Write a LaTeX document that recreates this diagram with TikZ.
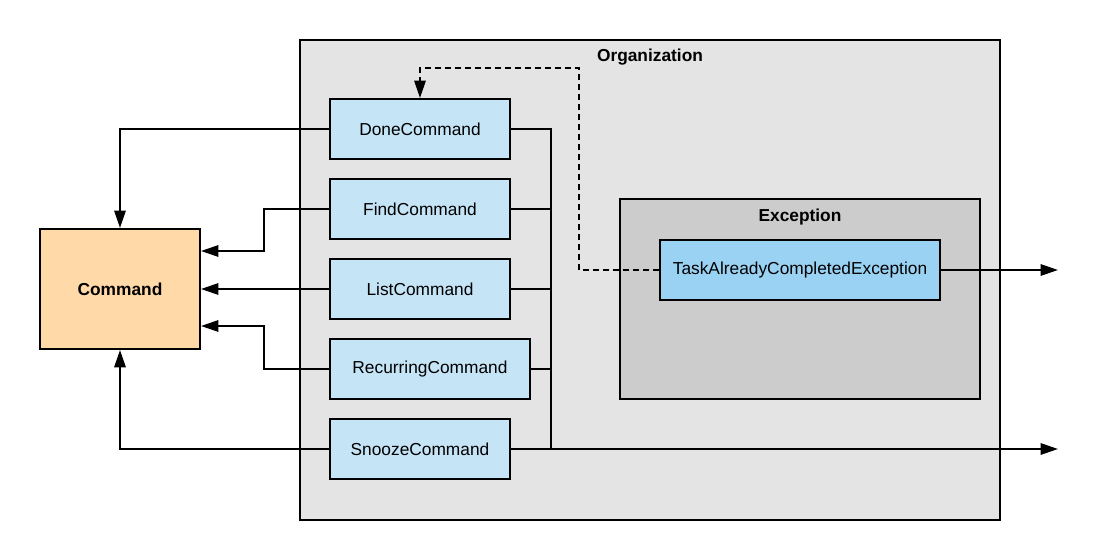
\documentclass[tikz,border=0pt]{standalone}
\usepackage{fontspec}
\setmainfont{Liberation Sans}
\usepackage{tikz}
\usetikzlibrary{arrows.meta}
\usepackage{xcolor}

\definecolor{orgGray}{RGB}{228,228,228}
\definecolor{excGray}{RGB}{204,204,204}
\definecolor{cmdBlue}{RGB}{197,228,246}
\definecolor{excBlue}{RGB}{154,210,243}
\definecolor{baseOrange}{RGB}{255,218,168}

\tikzset{
  box/.style={draw=black, line width=1.5pt, inner sep=0pt, minimum height=45pt, font=\fontsize{13}{15}\selectfont},
  cmdbox/.style={box, fill=cmdBlue, minimum width=135pt},
  link/.style={line width=1.5pt, -{Triangle[length=13pt,width=8.5pt]}},
  wire/.style={line width=1.5pt},
  title/.style={font=\fontsize{13}{15}\selectfont\bfseries}
}

\begin{document}
\begin{tikzpicture}[x=0.75pt,y=0.75pt,yscale=-1,xscale=1]
\useasboundingbox (0,0) rectangle (1097,560);

%Shape: Rectangle [Organization]
\draw [fill=orgGray, line width=1.5pt] (300,40) rectangle (1000,520);
%Shape: Rectangle [Exception]
\draw [fill=excGray, line width=1.5pt] (620,199) rectangle (980,399);

% Text Node
\node [title] (orgTitle) at (650,57) {Organization};
% Text Node
\node [title] (excTitle) at (800,217) {Exception};

% Base class
\node [box, fill=baseOrange, minimum width=120pt, minimum height=90pt, font=\fontsize{13}{15}\selectfont\bfseries] (command) at (120,289) {Command};

% Commands
\node [cmdbox] (done) at (420,129) {DoneCommand};
\node [cmdbox] (find) at (420,209) {FindCommand};
\node [cmdbox] (list) at (420,289) {ListCommand};
\node [cmdbox, minimum width=150pt] (recurring) at (430,369) {RecurringCommand};
\node [cmdbox] (snooze) at (420,449) {SnoozeCommand};

% Exception class
\node [box, fill=excBlue, minimum width=210pt] (taskDone) at (800,270) {TaskAlreadyCompletedException};

% free ends
\coordinate (outSnooze) at (1058,449);
\coordinate (outTask) at (1058,270);

% Arrows into Command
\draw [link] (done.west) -| (command.north);
\draw [link] (find.west) -- ++(-65,0) |- ([yshift=-28.5pt]command.east);
\draw [link] (list.west) -- (command.east);
\draw [link] (recurring.west) -- ++(-65,0) |- ([yshift=27.75pt]command.east);
\draw [link] (snooze.west) -| (command.south);

% Right bus
\draw [wire] (done.east) -- ++(40,0) coordinate (busTop) -- (busTop |- snooze.east);
\draw [wire] (find.east) -- (find.east -| busTop);
\draw [wire] (list.east) -- (list.east -| busTop);
\draw [wire] (recurring.east) -- (recurring.east -| busTop);
\draw [link] (snooze.east) -- (outSnooze);

% Exception links
\draw [link] (taskDone.east) -- (outTask);
\draw [link, dash pattern=on 4.5pt off 3pt] (taskDone.west) -- ++(-80,0) |- ([yshift=-22.5pt]done.north) -- (done.north);

\end{tikzpicture}
\end{document}
